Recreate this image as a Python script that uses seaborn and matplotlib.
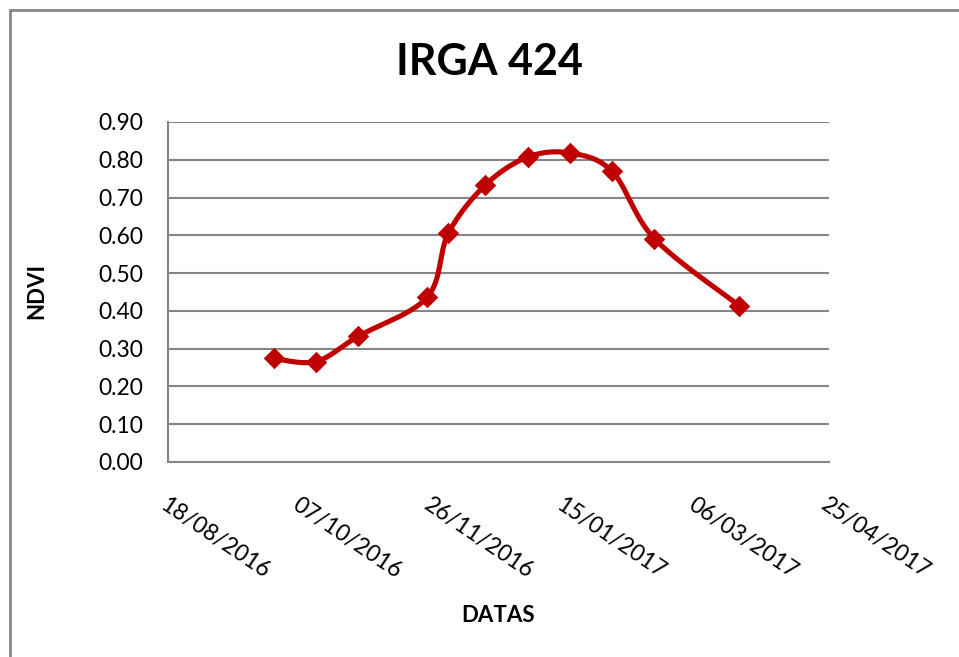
import numpy as np
import pandas as pd
import matplotlib
matplotlib.use("Agg")
import matplotlib.pyplot as plt
import matplotlib.dates as mdates
from matplotlib.patches import Rectangle
import seaborn as sns

sns.set_theme(style="white")
plt.rcParams['font.family'] = ['Lato', 'DejaVu Sans']
plt.rcParams['text.color'] = 'black'
plt.rcParams['xtick.color'] = 'black'
plt.rcParams['ytick.color'] = 'black'

# values
dates = ["27/09/2016", "13/10/2016", "29/10/2016", "24/11/2016", "02/12/2016",
         "16/12/2016", "01/01/2017", "17/01/2017", "02/02/2017", "18/02/2017",
         "22/03/2017"]
ndvi = [0.274, 0.266, 0.333, 0.436, 0.605, 0.733, 0.807, 0.818, 0.769, 0.591, 0.414]
tick_dates = ["18/08/2016", "07/10/2016", "26/11/2016", "15/01/2017",
              "06/03/2017", "25/04/2017"]
y_ticks = [0.0, 0.1, 0.2, 0.3, 0.4, 0.5, 0.6, 0.7, 0.8, 0.9]

red = "#C00000"
grey = "#868686"

x = mdates.date2num(pd.to_datetime(dates, format="%d/%m/%Y"))
xt = mdates.date2num(pd.to_datetime(tick_dates, format="%d/%m/%Y"))
y = np.array(ndvi)
x0, x1 = xt[0], xt[-1]
y0, y1 = 0.0, 0.9

fig = plt.figure(figsize=(9.59, 6.57), dpi=100)
ax = fig.add_axes([168/959, 1-462/657, (829-168)/959, (462-122)/657])

# Excel-style smoothed line (bezier through the points, done in pixel space)
sx = 661 / (x1 - x0)
sy = 340 / (y1 - y0)
P = np.column_stack([(x - x0) * sx, y * sy])
Pe = np.vstack([P[0], P, P[-1]])
t = np.linspace(0, 1, 40)[:, None]
curve = []
for i in range(len(P) - 1):
    p0, p1, p2, p3 = Pe[i], Pe[i+1], Pe[i+2], Pe[i+3]
    c1 = p1 + (p2 - p0) / 6
    c2 = p2 - (p3 - p1) / 6
    seg = (1-t)**3*p1 + 3*(1-t)**2*t*c1 + 3*(1-t)*t**2*c2 + t**3*p2
    curve.append(seg)
curve = np.vstack(curve)
smooth = pd.DataFrame({"x": curve[:, 0] / sx + x0, "y": curve[:, 1] / sy})
pts = pd.DataFrame({"x": x, "y": y})

sns.lineplot(data=smooth, x="x", y="y", sort=False, color=red, linewidth=3.7,
             ax=ax, solid_capstyle="round")
sns.scatterplot(data=pts, x="x", y="y", marker="D", s=120, color=red,
                linewidth=0, ax=ax, zorder=5)

ax.set_xlim(x0, x1)
ax.set_ylim(y0, y1)
ax.set_yticks(y_ticks)
ax.set_yticklabels([f"{v:.2f}" for v in y_ticks], fontsize=16.5)
ax.set_xticks(xt)
ax.set_xticklabels(tick_dates, fontsize=16.5, rotation=-34, ha="left", va="top",
                   rotation_mode="anchor")
ax.tick_params(axis="x", length=0, pad=23)
ax.tick_params(axis="y", length=0, pad=18)
ax.set_xlabel("")
ax.set_ylabel("")

ax.grid(axis="y", color=grey, linewidth=1.5)
ax.grid(axis="x", visible=False)
ax.set_axisbelow(True)
for s in ["top", "right"]:
    ax.spines[s].set_visible(False)
for s in ["left", "bottom"]:
    ax.spines[s].set_color(grey)
    ax.spines[s].set_linewidth(1.5)

fig.text(489/959, 1-62/657, "IRGA 424", fontsize=31, fontweight="bold",
         ha="center", va="center")
fig.text(37/959, 1-291/657, "NDVI", fontsize=16, fontweight="bold",
         rotation=90, ha="center", va="center")
fig.text(498/959, 1-616/657, "DATAS", fontsize=16, fontweight="bold",
         ha="center", va="center")

fig.add_artist(Rectangle((10/959, -0.1), 1.0, 1.1 - 10/657, transform=fig.transFigure,
                         fill=False, edgecolor=grey, linewidth=2))

fig.savefig("out.png", dpi=100)
